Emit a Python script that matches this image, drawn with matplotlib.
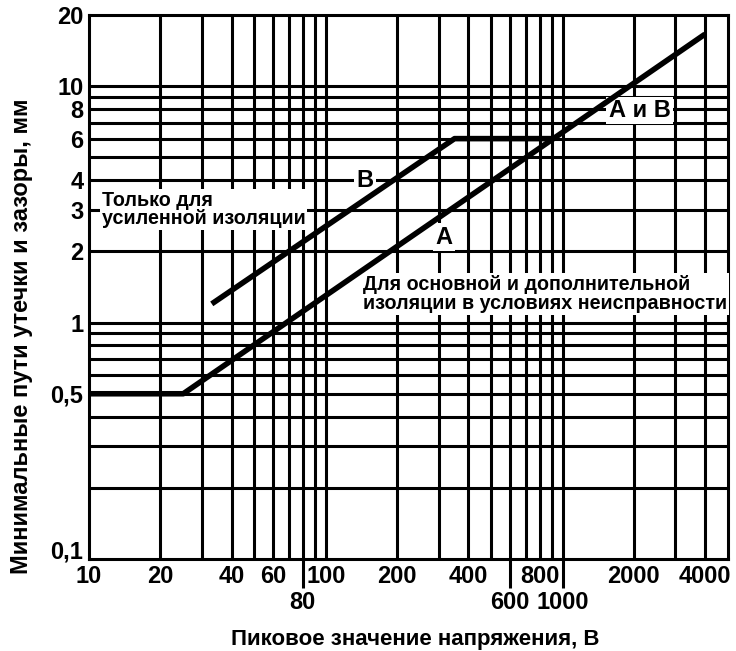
import matplotlib
matplotlib.use("Agg")
import matplotlib.pyplot as plt

plt.rcParams["font.family"] = ["Liberation Sans", "DejaVu Sans"]
plt.rcParams["font.weight"] = "bold"
plt.rcParams["axes.labelweight"] = "bold"
plt.rcParams["font.size"] = 17

# кривые (В, мм)
a_x = [10, 25, 4000]
a_y = [0.5, 0.5, 16.6]
b_x = [33, 350, 917]
b_y = [1.2, 6, 6]

grid_x = [20, 30, 40, 50, 60, 70, 80, 90, 100, 200, 300, 400, 500,
          600, 700, 800, 900, 1000, 2000, 3000, 4000]
grid_y = [0.2, 0.3, 0.4, 0.5, 0.6, 0.7, 0.8, 0.9, 1, 2, 3, 4, 5, 6, 7, 8, 9, 10]

xticks_top = [10, 20, 40, 60, 100, 200, 400, 800, 2000, 4000]
xticks_low = [80, 600, 1000]
yticks = [0.1, 0.5, 1, 2, 3, 4, 6, 8, 10, 20]
ytick_labels = ["0,1", "0,5", "1", "2", "3", "4", "6", "8", "10", "20"]

fig = plt.figure(figsize=(7.36, 6.51), dpi=100)
ax = fig.add_axes([89 / 736, 1 - 559 / 651, 639 / 736, 544 / 651])
ax.set_xscale("log")
ax.set_yscale("log")
ax.set_xlim(10, 5000)
ax.set_ylim(0.1, 20)

for v in grid_x:
    ax.axvline(v, color="black", lw=2.2, zorder=1)
for v in grid_y:
    ax.axhline(v, color="black", lw=2.2, zorder=1)

ax.plot(a_x, a_y, color="black", lw=4, solid_capstyle="butt", zorder=4)
ax.plot(b_x, b_y, color="black", lw=4, solid_capstyle="butt", zorder=4)

ax.set_xticks(xticks_top, labels=[str(v) for v in xticks_top])
ax.set_xticks(xticks_low, labels=[str(v) for v in xticks_low], minor=True)
ax.set_yticks(yticks, labels=ytick_labels)
ax.set_yticks([], minor=True)
ax.tick_params(axis="both", which="major", length=0, pad=4)
ax.tick_params(axis="x", which="minor", length=21, width=2.2, pad=2)
ax.get_yticklabels()[0].set_va("baseline")

for s in ax.spines.values():
    s.set_linewidth(2.2)

box = dict(facecolor="white", edgecolor="none", boxstyle="square,pad=0.1")
ax.text(11.3, 3.0, "Только для\nусиленной изоляции", ha="left", va="center",
        fontsize=14.2, linespacing=0.95, bbox=box, zorder=3)
ax.text(146, 4, "В", ha="center", va="center", fontsize=17, bbox=box, zorder=3)
ax.text(315, 2.3, "А", ha="center", va="center", fontsize=17, bbox=box, zorder=3)
ax.text(143, 1.32, "Для основной и дополнительной\nизоляции в условиях неисправности",
        ha="left", va="center", fontsize=14.2, linespacing=0.95, bbox=box, zorder=3)
ax.text(2120, 7.9, "А и В", ha="center", va="center", fontsize=17, bbox=box, zorder=3)

ax.set_xlabel("Пиковое значение напряжения, В", fontsize=16)
ax.set_ylabel("Минимальные пути утечки и зазоры, мм", fontsize=17)
ax.xaxis.set_label_coords(0.51, -0.128)
ax.yaxis.set_label_coords(-0.088, 0.41)

fig.savefig("out.png", dpi=100)
